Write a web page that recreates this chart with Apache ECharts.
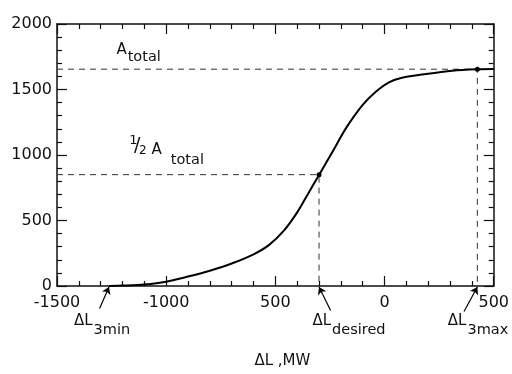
<!DOCTYPE html>
<html>
<head>
<meta charset="utf-8">
<script src="https://cdn.jsdelivr.net/npm/echarts@6/dist/echarts.min.js"></script>
<style>
  html, body { margin: 0; padding: 0; background: #fff; }
  #chart { width: 512px; height: 374px; }
</style>
</head>
<body>
<div id="chart"></div>
<script>
// S-curve (ΔL in MW, A)
const curveX = [-1262, -1200, -1100, -1000, -900, -800, -700, -600, -530, -460, -400, -350, -300, -235, -175, -100, -40, 20, 80, 190, 310, 425, 500];
const curveY = [0, 3, 12, 33, 72, 117, 172, 242, 312, 425, 562, 705, 848, 1035, 1209, 1383, 1483, 1555, 1590, 1619, 1644, 1655, 1657];

// x tick labels as printed (the -500 lost its minus in the original)
const xTickLabels = ["-1500", "-1000", "500", "0", "500"];
const xTickValues = [-1500, -1000, -500, 0, 500];

const aTotal = 1655;
const aHalf = 850;
const dlDesired = -300;
const dl3max = 425;
const dl3min = -1262;

// guide lines
const totalGuide = [[-1500, aTotal], [dl3max, aTotal], [dl3max, 0]];
const halfGuide = [[-1500, aHalf], [dlDesired, aHalf], [dlDesired, 0]];
const dots = [[dl3max, aTotal], [dlDesired, aHalf]];

// arrows from the labels under the axis
const arrows = [
  [[-1305, -172], [dl3min, -8]],
  [[-247, -187], [dlDesired, -8]],
  [[364, -194], [dl3max, -8]]
];

// annotation texts: main part ends at the anchor, subscript starts there
const noteAnchors = [[-1181, 1802], [-1020, 1037], [-1337, -265], [-245, -265], [375, -265]];
const noteMain = ["A", "A", "ΔL", "ΔL", "ΔL"];
const noteSub = ["total", "total", "3min", "desired", "3max"];
const noteSubGap = [1, 9, 1, 1, 1];
const noteSubDrop = [7, 10, 9.5, 9.5, 9.5];
// the "1/2" in front of the second note
const halfParts = ["1", "/", "2"];

const font = "DejaVu Sans";
const ink = "#111";

const noteData = [];
noteAnchors.forEach(function (p, i) {
  noteData.push({
    value: p,
    label: { formatter: noteMain[i], align: "right", fontSize: 15, offset: [0, 0] }
  });
  noteData.push({
    value: p,
    label: { formatter: noteSub[i], align: "left", fontSize: 14.5, offset: [noteSubGap[i], noteSubDrop[i]] }
  });
});
const halfOffsets = [[-28.5, -10], [-24.5, -4.5], [-19, 1]];
const halfSizes = [13, 19, 12];
halfParts.forEach(function (t, i) {
  noteData.push({
    value: noteAnchors[1],
    label: { formatter: t, align: "center", fontSize: halfSizes[i], offset: halfOffsets[i] }
  });
});

const chart = echarts.init(document.getElementById("chart"));

const sharedX = {
  type: "value",
  min: -1500,
  max: 500,
  interval: 500,
  splitLine: { show: false },
  axisLine: { show: true, onZero: false, lineStyle: { color: ink, width: 1.5 } },
  axisTick: { show: true, inside: true, length: 10, lineStyle: { color: ink, width: 1.2 } },
  minorTick: { show: true, splitNumber: 5, length: 5, lineStyle: { color: ink, width: 1.2 } }
};
const sharedY = {
  type: "value",
  min: 0,
  max: 2000,
  interval: 500,
  splitLine: { show: false },
  axisLine: { show: true, onZero: false, lineStyle: { color: ink, width: 1.5 } },
  axisTick: { show: true, inside: true, length: 10, lineStyle: { color: ink, width: 1.2 } },
  minorTick: { show: true, splitNumber: 5, length: 5, lineStyle: { color: ink, width: 1.2 } }
};

chart.setOption({
  animation: false,
  backgroundColor: "#fff",
  grid: { left: 57, right: 13, top: 24, bottom: 82 },
  xAxis: [
    Object.assign({}, sharedX, {
      position: "bottom",
      name: "ΔL ,MW",
      nameLocation: "middle",
      nameGap: 68,
      nameTextStyle: { fontFamily: font, fontSize: 15, color: ink, padding: [0, 0, 0, 14] },
      axisLabel: {
        fontFamily: font,
        fontSize: 16,
        color: ink,
        margin: 9,
        formatter: function (v) {
          const i = xTickValues.indexOf(v);
          return i >= 0 ? xTickLabels[i] : "";
        }
      }
    }),
    Object.assign({}, sharedX, { position: "top", axisLabel: { show: false } })
  ],
  yAxis: [
    Object.assign({}, sharedY, {
      position: "left",
      axisLabel: {
        fontFamily: font, fontSize: 16, color: ink, margin: 5, padding: [0, 0, 10, 0],
        formatter: function (v) { return String(v); }
      }
    }),
    Object.assign({}, sharedY, { position: "right", axisLabel: { show: false } })
  ],
  series: [
    {
      type: "line",
      data: totalGuide,
      symbol: "none",
      lineStyle: { color: "#333", width: 1, type: [6, 5] },
      z: 1
    },
    {
      type: "line",
      data: halfGuide,
      symbol: "none",
      lineStyle: { color: "#333", width: 1, type: [6, 5] },
      z: 1
    },
    {
      type: "line",
      data: curveX.map((x, i) => [x, curveY[i]]),
      symbol: "none",
      smooth: 0.3,
      lineStyle: { color: "#000", width: 2 },
      z: 3
    },
    {
      type: "scatter",
      data: dots,
      symbolSize: 5,
      itemStyle: { color: "#000", opacity: 1 },
      z: 4
    },
    {
      type: "lines",
      coordinateSystem: "cartesian2d",
      clip: false,
      silent: true,
      symbol: ["none", "arrow"],
      symbolSize: 7,
      lineStyle: { color: "#000", width: 1.2, opacity: 1 },
      data: arrows.map(a => ({ coords: a }))
    },
    {
      type: "scatter",
      clip: false,
      silent: true,
      symbolSize: 0,
      itemStyle: { color: "#000", opacity: 1 },
      data: noteData,
      label: {
        show: true,
        position: "inside",
        verticalAlign: "middle",
        color: ink,
        fontFamily: font
      }
    }
  ]
});
</script>
</body>
</html>
